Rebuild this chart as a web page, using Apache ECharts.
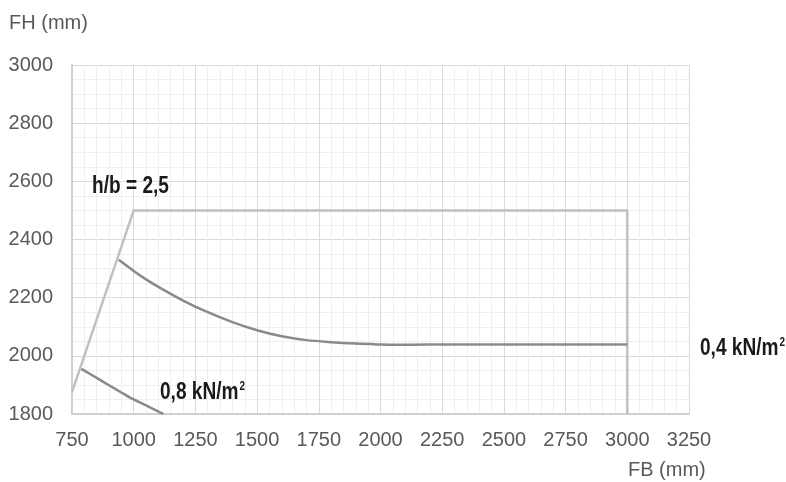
<!DOCTYPE html>
<html><head><meta charset="utf-8">
<script src="https://cdn.jsdelivr.net/npm/echarts@6/dist/echarts.min.js"></script>
<style>html,body{margin:0;padding:0;background:#fff}#c{width:786px;height:482px}</style>
</head><body><div id="c"></div>
<script>
// h/b = 2,5 boundary
const hbX = [750, 1000, 3000, 3000];
const hbY = [1875, 2500, 2500, 1800];
// 0,4 kN/m2 curve
const c04X = [939, 1000, 1050, 1100, 1200, 1300, 1400, 1500, 1600, 1700, 1800, 1900, 2000, 2050, 2200, 3000];
const c04Y = [2330, 2292, 2263, 2237, 2190, 2150, 2116, 2088, 2067, 2054, 2047, 2042, 2039, 2038, 2039, 2039];
// 0,8 kN/m2 curve
const c08X = [788, 850, 900, 950, 1000, 1050, 1120];
const c08Y = [1955, 1924, 1899, 1874, 1850, 1830, 1800];
const xTicks = {min: 750, max: 3250, interval: 250};
const yTicks = {min: 1800, max: 3000, interval: 200};

const zip = (a, b) => a.map((v, i) => [v, b[i]]);
const chart = echarts.init(document.getElementById('c'), null, {renderer: 'canvas'});
const FONT = 'Liberation Sans, Arial, sans-serif';
const axisFont = {color: '#595959', fontSize: 20, fontFamily: FONT, formatter: v => String(v)};
const BOLD = 'bold 23px ' + FONT;
const SUPF = 'bold 12px ' + FONT;
const SX = 0.83;
const cv = document.createElement('canvas').getContext('2d');
function textW(t, f) { cv.font = f; return cv.measureText(t).width; }
function label(txt, x, y, sup) {
  const els = [{type: 'text', x: x, y: y, scaleX: SX, silent: true, z: 10,
    style: {text: txt, font: BOLD, fill: '#1a1a1a', verticalAlign: 'middle', textVerticalAlign: 'middle', lineWidth: 0}}];
  if (sup) {
    els.push({type: 'text', x: x + textW(txt, BOLD) * SX + 1, y: y - 12, scaleX: SX, silent: true, z: 10,
      style: {text: sup, font: SUPF, fill: '#1a1a1a', verticalAlign: 'top', textVerticalAlign: 'top', lineWidth: 0}});
  }
  return els;
}
chart.setOption({
  animation: false,
  grid: {left: 72, right: 97, top: 65, bottom: 68},
  xAxis: {
    type: 'value', min: xTicks.min, max: xTicks.max, interval: xTicks.interval,
    axisLine: {show: true, lineStyle: {color: '#d0d0d0', width: 2}},
    axisTick: {show: false},
    axisLabel: Object.assign({margin: 16}, axisFont),
    splitLine: {show: true, lineStyle: {color: '#dadada', width: 1}},
    minorTick: {show: false, splitNumber: 5},
    minorSplitLine: {show: true, lineStyle: {color: '#efefef', width: 1}}
  },
  yAxis: {
    type: 'value', min: yTicks.min, max: yTicks.max, interval: yTicks.interval,
    axisLine: {show: true, lineStyle: {color: '#d0d0d0', width: 2}},
    axisTick: {show: false},
    axisLabel: Object.assign({margin: 19}, axisFont),
    splitLine: {show: true, lineStyle: {color: '#dadada', width: 1}},
    minorTick: {show: false, splitNumber: 4},
    minorSplitLine: {show: true, lineStyle: {color: '#efefef', width: 1}}
  },
  series: [
    {type: 'line', data: zip(hbX, hbY), symbol: 'none', lineStyle: {color: '#c0c0c0', width: 2.5}, z: 3},
    {type: 'line', data: zip(c04X, c04Y), symbol: 'none', smooth: 0.3, lineStyle: {color: '#8a8a8a', width: 2.5}, z: 4},
    {type: 'line', data: zip(c08X, c08Y), symbol: 'none', smooth: 0.3, lineStyle: {color: '#8a8a8a', width: 2.5}, z: 4}
  ],
  graphic: [
    {type: 'text', x: 9, y: 23, silent: true, style: {text: 'FH (mm)', font: '20px ' + FONT, fill: '#595959', verticalAlign: 'middle', textVerticalAlign: 'middle'}},
    {type: 'text', x: 628, y: 470, silent: true, style: {text: 'FB (mm)', font: '20px ' + FONT, fill: '#595959', verticalAlign: 'middle', textVerticalAlign: 'middle'}}
  ].concat(
    label('h/b = 2,5', 92, 187),
    label('0,8 kN/m', 160, 393, '2'),
    label('0,4 kN/m', 700, 349, '2')
  )
});
</script></body></html>
